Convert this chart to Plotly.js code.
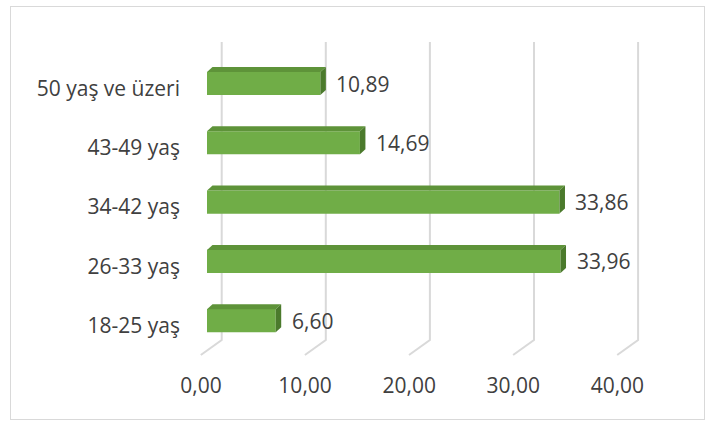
<!DOCTYPE html>
<html>
<head>
<meta charset="utf-8">
<script src="https://cdn.plot.ly/plotly-3.0.1.min.js"></script>
<style>
  html, body { margin: 0; padding: 0; background: #fff; }
  #wrap { position: relative; width: 714px; height: 421px; }
  #chart { width: 714px; height: 421px; }
  #frame { position: absolute; left: 10px; top: 6px; width: 693px; height: 412px;
           border: 1px solid #d9d9d9; pointer-events: none; }
</style>
</head>
<body>
<div id="wrap"><div id="chart"></div><div id="frame"></div></div>
<script>
// ---- data ----
var categories = ['18-25 yaş', '26-33 yaş', '34-42 yaş', '43-49 yaş', '50 yaş ve üzeri'];
var values = [6.60, 33.96, 33.86, 14.69, 10.89];
var tickVals = [0, 10, 20, 30, 40];
var tickText = ['0,00', '10,00', '20,00', '30,00', '40,00'];

// ---- style ----
var FRONT = '#70AD47', TOP = '#5E9339', SIDE = '#4B7A2C';
var GRID = '#D9D9D9';
var TXT = '#404040';
var FONT = '"Open Sans", "Liberation Sans", sans-serif';
var FS = 21;
var xRange = [-1.633, 46.398];
var yRange = [-0.663, 4.801];
var barW = 0.39;
var depthPx = 5.5;              // 3D depth, pixels
var pxPerUnit = 500 / (xRange[1] - xRange[0]);
var depthData = depthPx / pxPerUnit;
var halfH = 11.5;

function fmt(v) { return v.toFixed(2).replace('.', ','); }

var idx = categories.map(function (c, i) { return i; });

var shapes = [];
// gridlines (3D wall + floor edge)
tickVals.forEach(function (v) {
  shapes.push({
    type: 'path', layer: 'below',
    xref: 'x', yref: 'y',
    xsizemode: 'pixel', ysizemode: 'pixel',
    xanchor: v, yanchor: yRange[0],
    path: 'M-6.2,5 L14.7,20 L14.7,318',
    line: { color: GRID, width: 2 }
  });
});
// bar top and side faces
values.forEach(function (v, i) {
  shapes.push({
    type: 'path', layer: 'above',
    xref: 'x', yref: 'y',
    ysizemode: 'pixel', yanchor: i,
    path: 'M0,' + halfH + ' L' + v + ',' + halfH + ' L' + (v + depthData) + ',' + (halfH + 5) +
          ' L' + depthData + ',' + (halfH + 5) + ' Z',
    fillcolor: TOP, line: { width: 0 }
  });
  shapes.push({
    type: 'path', layer: 'above',
    xref: 'x', yref: 'y',
    xsizemode: 'pixel', ysizemode: 'pixel', xanchor: v, yanchor: i,
    path: 'M0,' + halfH + ' L' + depthPx + ',' + (halfH + 5) + ' L' + depthPx + ',' + (-halfH + 5) +
          ' L0,' + (-halfH) + ' Z',
    fillcolor: SIDE, line: { width: 0 }
  });
});

var annotations = values.map(function (v, i) {
  return {
    x: v, y: i, xref: 'x', yref: 'y',
    text: fmt(v), showarrow: false,
    xanchor: 'left', yanchor: 'middle', xshift: 14, yshift: 0,
    font: { family: FONT, size: FS, color: TXT }
  };
});

var trace = {
  type: 'bar', orientation: 'h',
  x: values, y: idx,
  width: barW,
  marker: { color: FRONT, line: { width: 0 } },
  hoverinfo: 'skip'
};

var layout = {
  width: 714, height: 421,
  margin: { l: 190, r: 24, t: 36, b: 61 },
  paper_bgcolor: '#fff', plot_bgcolor: 'rgba(0,0,0,0)',
  showlegend: false,
  font: { family: FONT, size: FS, color: TXT },
  xaxis: {
    range: xRange, showgrid: false, zeroline: false, showline: false,
    tickmode: 'array', tickvals: tickVals, ticktext: tickText,
    ticks: '', ticklabelshift: -6, ticklabelstandoff: 11,
    tickfont: { family: FONT, size: FS, color: TXT }, fixedrange: true
  },
  yaxis: {
    range: yRange, showgrid: false, zeroline: false, showline: false,
    tickmode: 'array', tickvals: idx, ticktext: categories,
    ticks: '', ticklabelshift: 5, ticklabelstandoff: 9,
    tickfont: { family: FONT, size: FS, color: TXT }, fixedrange: true
  },
  shapes: shapes,
  annotations: annotations
};

Plotly.newPlot('chart', [trace], layout, { displayModeBar: false, staticPlot: true });
</script>
</body>
</html>
